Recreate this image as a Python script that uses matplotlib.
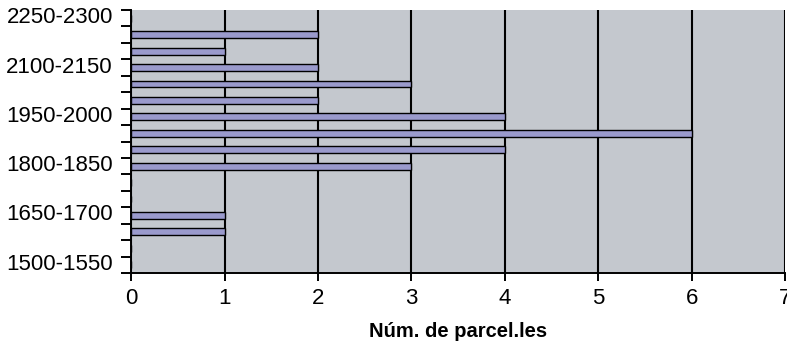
import numpy as np
import matplotlib.pyplot as plt
import matplotlib.transforms as mtransforms

plt.rcParams['font.family'] = ['Liberation Sans', 'DejaVu Sans']

# 50-year periods and number of plots in each
periods = ['1500-1550', '1550-1600', '1600-1650', '1650-1700',
           '1700-1750', '1750-1800', '1800-1850', '1850-1900',
           '1900-1950', '1950-2000', '2000-2050', '2050-2100',
           '2100-2150', '2150-2200', '2200-2250', '2250-2300']
parcels = [0, 0, 1, 1, 0, 0, 3, 4, 6, 4, 2, 3, 2, 1, 2, 0]
shown = ['1500-1550', '1650-1700', '1800-1850',
         '1950-2000', '2100-2150', '2250-2300']

fig = plt.figure(figsize=(7.87, 3.46), dpi=100)
ax = fig.add_axes([0.1665, 0.211, 0.8315, 0.760])
ax.set_facecolor('#c4c8ce')

y = np.arange(len(periods))
ax.barh(y, parcels, height=0.42, color='#9a9acc', edgecolor='black',
        linewidth=1.0, zorder=3)

ax.set_xlim(0, 7)
ax.set_ylim(-0.5, len(periods) - 0.5)

# vertical grid behind the bars
ax.grid(axis='x', color='black', linewidth=1.5, zorder=1)
ax.set_axisbelow(True)

ax.set_xticks(range(8))
ax.tick_params(axis='x', direction='out', length=6, width=1.4,
               labelsize=16, pad=5)

# labels on every third period, tick marks between periods
idx = [periods.index(p) for p in shown]
ax.set_yticks(idx)
ax.set_yticklabels(shown)
ax.set_yticks(np.arange(-0.5, len(periods)), minor=True)
ax.tick_params(axis='y', which='major', length=0, labelsize=16, pad=13)
ax.tick_params(axis='y', which='minor', direction='out', length=7, width=1.4)

# nudge the period labels up a little
shift = mtransforms.ScaledTranslation(0, 3 / 100, fig.dpi_scale_trans)
for lab in ax.get_yticklabels():
    lab.set_transform(lab.get_transform() + shift)

for s in ['top', 'right']:
    ax.spines[s].set_visible(False)
for s in ['left', 'bottom']:
    ax.spines[s].set_linewidth(1.4)

ax.set_xlabel('Núm. de parcel.les', fontsize=14.5, fontweight='bold',
              labelpad=9)

fig.savefig('out.png', dpi=100)
